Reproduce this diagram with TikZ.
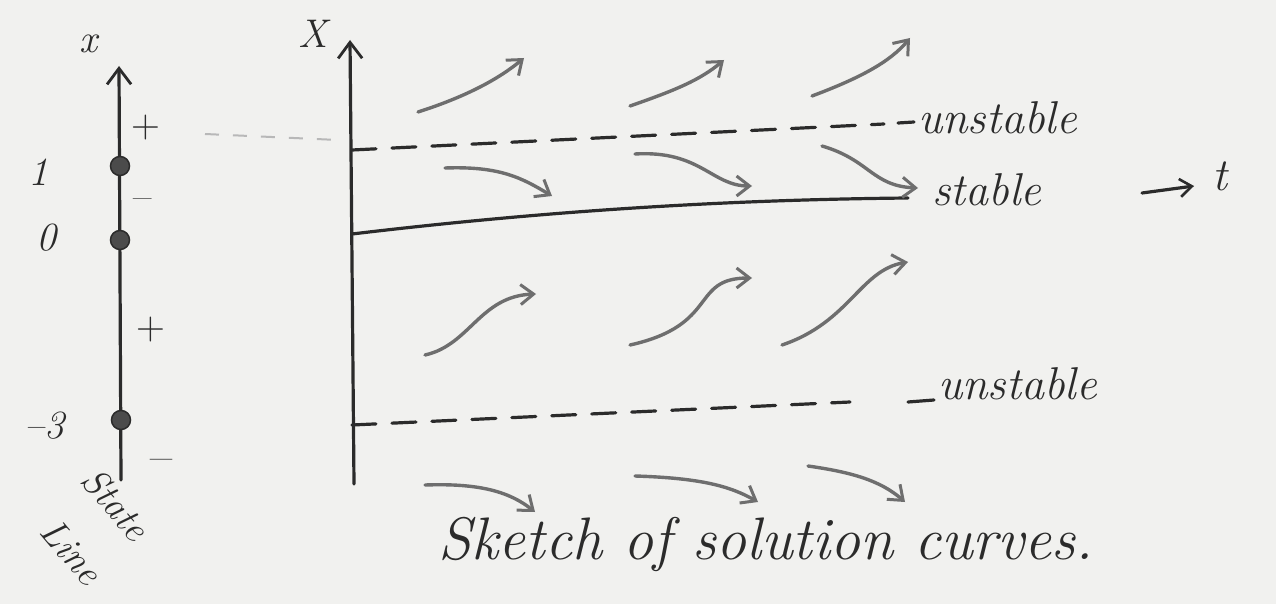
\documentclass[tikz,border=0pt]{standalone}
\usetikzlibrary{arrows.meta}
\definecolor{bgc}{HTML}{F1F1EF}
\definecolor{inkc}{HTML}{2B2B2B}
\definecolor{flowc}{HTML}{6E6E6E}
\definecolor{faintc}{HTML}{B8B8B8}
\begin{document}
\begin{tikzpicture}[x=1pt,y=-1pt,
  ink/.style={draw=inkc,line width=3.2pt,line cap=round},
  axisarrow/.style={ink,-{Straight Barb[length=16pt,width=24pt,line width=2.8pt]}},
  eqdash/.style={ink,dash pattern=on 24pt off 16pt},
  flow/.style={draw=flowc,line width=3.4pt,line cap=round,
     -{Straight Barb[length=13pt,width=20pt,line width=3pt]}},
  dot/.style={circle,fill=inkc!85,draw=inkc,line width=1.5pt,minimum size=19pt,inner sep=0pt},
  hand/.style={text=inkc,inner sep=0pt,font=\fontsize{40}{44}\selectfont\itshape},
  sign/.style={text=inkc,inner sep=0pt,font=\fontsize{40}{42}\selectfont},
]
\fill[bgc] (0,0) rectangle (1276,604);
\useasboundingbox (0,0) rectangle (1276,604);

% ---- phase (state) line ----
\coordinate (sb) at (121,480);
\coordinate (st) at (119,66);
\draw[axisarrow] (sb) -- (st);
\node[dot] (p1) at (120,166) {};
\node[dot] (p0) at (120,240) {};
\node[dot] (pm3) at (121,420) {};
\node[hand] (lx) at (88,44) {x};
\node[hand] (l1) at (38,172) {1};
\node[hand] (l0) at (46,238) {0};
\node[hand] (lm3) at (44,426) {–3};
\node[sign] (s1) at (146,128) {+};
\node[sign] (s2) at (143,204) {–};
\node[sign] (s3) at (151,330) {+};
\node[sign,font=\fontsize{48}{50}\selectfont] (s4) at (162,466) {–};
\node[hand,rotate=-50,font=\fontsize{38}{40}\selectfont\itshape] (sl1) at (116,504) {State};
\node[hand,rotate=-50,font=\fontsize{38}{40}\selectfont\itshape] (sl2) at (72,552) {Line};

% faint guide from x=1 to the t-x plane
\coordinate (g1) at (205,134);
\coordinate (g2) at (338,140);
\draw[faintc,line width=2pt,dash pattern=on 14pt off 14pt] (g1) -- (g2);

% ---- t-x plane ----
\coordinate (ab) at (354,484);
\coordinate (at) at (350,40);
\draw[axisarrow] (ab) -- (at);
\node[hand] (lX) at (313,34) {X};

% equilibria
\coordinate (u1) at (352,150);
\coordinate (u2) at (884,124);
\draw[eqdash] (u1) -- (u2);
\coordinate (u3) at (898,123);
\coordinate (u4) at (914,122);
\draw[ink] (u3) -- (u4);
\coordinate (e1) at (352,234);
\coordinate (e2) at (908,198);
\draw[ink] (e1) .. controls (520,214) and (700,200) .. (e2);
\coordinate (d1) at (352,425);
\coordinate (d2) at (850,402);
\draw[eqdash] (d1) -- (d2);
\coordinate (d3) at (908,402);
\coordinate (d4) at (934,400);
\draw[ink] (d3) -- (d4);

\node[hand,anchor=west,font=\fontsize{46}{48}\selectfont\itshape] (lu1) at (918,118) {unstable};
\node[hand,anchor=west,font=\fontsize{46}{48}\selectfont\itshape] (ls) at (932,190) {stable};
\node[hand,anchor=west,font=\fontsize{46}{48}\selectfont\itshape] (lu2) at (938,384) {unstable};

% time arrow
\coordinate (ta) at (1142,193);
\coordinate (tb) at (1194,186);
\draw[ink,-{Straight Barb[length=12pt,width=18pt,line width=2.6pt]}] (ta) -- (tb);
\node[hand,font=\fontsize{46}{48}\selectfont\itshape] (lt) at (1220,176) {t};

% solution curves above upper equilibrium
\coordinate (a1s) at (418,112); \coordinate (a1e) at (524,58);
\draw[flow] (a1s) .. controls (468,96) and (500,78) .. (a1e);
\coordinate (a2s) at (630,106); \coordinate (a2e) at (724,60);
\draw[flow] (a2s) .. controls (676,90) and (700,80) .. (a2e);
\coordinate (a3s) at (812,96); \coordinate (a3e) at (910,38);
\draw[flow] (a3s) .. controls (860,78) and (890,62) .. (a3e);

% between upper equilibrium and stable
\coordinate (b1s) at (445,168); \coordinate (b1e) at (552,196);
\draw[flow] (b1s) .. controls (500,166) and (522,178) .. (b1e);
\coordinate (b2s) at (635,154); \coordinate (b2e) at (752,186);
\draw[flow] (b2s) .. controls (700,150) and (712,186) .. (b2e);
\coordinate (b3s) at (822,146); \coordinate (b3e) at (918,188);
\draw[flow] (b3s) .. controls (870,160) and (872,186) .. (b3e);

% between stable and lower equilibrium
\coordinate (c1s) at (425,355); \coordinate (c1e) at (536,294);
\draw[flow] (c1s) .. controls (470,345) and (480,296) .. (c1e);
\coordinate (c2s) at (630,345); \coordinate (c2e) at (752,278);
\draw[flow] (c2s) .. controls (720,325) and (690,278) .. (c2e);
\coordinate (c3s) at (782,345); \coordinate (c3e) at (908,262);
\draw[flow] (c3s) .. controls (850,322) and (860,270) .. (c3e);

% below lower equilibrium
\coordinate (f1s) at (425,485); \coordinate (f1e) at (535,512);
\draw[flow] (f1s) .. controls (480,483) and (510,492) .. (f1e);
\coordinate (f2s) at (635,476); \coordinate (f2e) at (758,502);
\draw[flow] (f2s) .. controls (700,478) and (730,486) .. (f2e);
\coordinate (f3s) at (808,466); \coordinate (f3e) at (905,502);
\draw[flow] (f3s) .. controls (850,472) and (880,480) .. (f3e);

\node[hand,font=\fontsize{60}{64}\selectfont\itshape] (cap) at (766,544) {Sketch of solution curves.};
\end{tikzpicture}
\end{document}
